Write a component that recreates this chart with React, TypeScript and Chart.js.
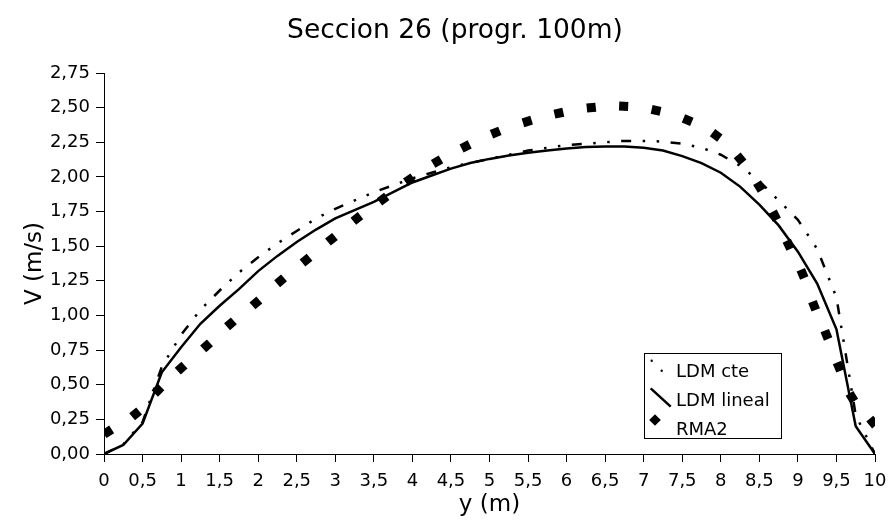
import React, { useEffect, useRef } from "react";
import { Chart, registerables } from "chart.js";

Chart.register(...registerables);

const chartTitle = "Seccion 26 (progr. 100m)";
const xAxisTitle = "y (m)";
const yAxisTitle = "V (m/s)";
const seriesNames = ["LDM cte", "LDM lineal", "RMA2"];

const cteX = [0, 0.25, 0.5, 0.75, 1, 1.25, 1.5, 1.75, 2, 2.25, 2.5, 2.75, 3, 3.25, 3.5, 3.75, 4, 4.25, 4.5, 4.75, 5, 5.25, 5.5, 5.75, 6, 6.25, 6.5, 6.75, 7, 7.25, 7.5, 7.75, 8, 8.25, 8.5, 8.75, 9, 9.25, 9.5, 9.75, 10];
const cteY = [0, 0.07, 0.23, 0.63, 0.86, 1.04, 1.18, 1.31, 1.42, 1.52, 1.61, 1.7, 1.77, 1.83, 1.89, 1.94, 1.99, 2.03, 2.07, 2.1, 2.13, 2.16, 2.19, 2.21, 2.23, 2.24, 2.25, 2.26, 2.26, 2.255, 2.24, 2.21, 2.16, 2.08, 1.97, 1.83, 1.69, 1.48, 1.13, 0.28, 0];

const linX = [0, 0.25, 0.5, 0.75, 1, 1.25, 1.5, 1.75, 2, 2.25, 2.5, 2.75, 3, 3.25, 3.5, 3.75, 4, 4.25, 4.5, 4.75, 5, 5.25, 5.5, 5.75, 6, 6.25, 6.5, 6.75, 7, 7.25, 7.5, 7.75, 8, 8.25, 8.5, 8.75, 9, 9.25, 9.5, 9.75, 10];
const linY = [0, 0.065, 0.22, 0.59, 0.77, 0.94, 1.07, 1.19, 1.32, 1.43, 1.53, 1.62, 1.7, 1.76, 1.82, 1.89, 1.96, 2.01, 2.06, 2.1, 2.13, 2.155, 2.175, 2.19, 2.205, 2.215, 2.22, 2.22, 2.21, 2.19, 2.15, 2.1, 2.03, 1.93, 1.8, 1.65, 1.46, 1.23, 0.9, 0.2, 0];

const rmaX = [0.05, 0.41, 0.7, 1.0, 1.33, 1.64, 1.97, 2.29, 2.62, 2.95, 3.28, 3.62, 3.96, 4.32, 4.69, 5.08, 5.49, 5.9, 6.32, 6.74, 7.16, 7.57, 7.94, 8.25, 8.5, 8.7, 8.88, 9.06, 9.21, 9.37, 9.53, 9.7, 9.97];
const rmaY = [0.16, 0.29, 0.46, 0.62, 0.78, 0.94, 1.09, 1.25, 1.4, 1.55, 1.7, 1.84, 1.98, 2.11, 2.22, 2.32, 2.4, 2.46, 2.5, 2.51, 2.48, 2.41, 2.3, 2.13, 1.93, 1.72, 1.51, 1.3, 1.07, 0.86, 0.63, 0.41, 0.23];

const xTicksMin = 0;
const xTicksMax = 10;
const xStep = 0.5;
const yTicksMin = 0;
const yTicksMax = 2.75;
const yStep = 0.25;

const FONT = "'DejaVu Sans', sans-serif";

function pts(xs: number[], ys: number[]) {
  return xs.map((x, i) => ({ x, y: ys[i] }));
}

const titlePlugin = {
  id: "customTitle",
  afterDraw(chart: any) {
    const ctx = chart.ctx;
    ctx.save();
    ctx.fillStyle = "#000";
    ctx.font = `26.5px ${FONT}`;
    ctx.textAlign = "center";
    ctx.textBaseline = "middle";
    ctx.fillText(chartTitle, 455, 31);
    ctx.restore();
  },
};

const legendPlugin = {
  id: "customLegend",
  afterDraw(chart: any) {
    const ctx = chart.ctx;
    ctx.save();
    const bx = 644.5, by = 353.5, bw = 137, bh = 85;
    ctx.fillStyle = "#fff";
    ctx.fillRect(bx, by, bw, bh);
    ctx.strokeStyle = "#000";
    ctx.lineWidth = 1;
    ctx.strokeRect(bx, by, bw, bh);
    ctx.fillStyle = "#000";
    ctx.beginPath();
    ctx.arc(651.7, 360.7, 1.2, 0, Math.PI * 2);
    ctx.arc(661.7, 370.7, 1.2, 0, Math.PI * 2);
    ctx.fill();
    ctx.beginPath();
    ctx.lineWidth = 2.5;
    ctx.moveTo(650.7, 388.3);
    ctx.lineTo(670.7, 406.7);
    ctx.stroke();
    const cx = 655, cy = 420, r = 5.8;
    ctx.beginPath();
    ctx.moveTo(cx, cy - r);
    ctx.lineTo(cx + r, cy);
    ctx.lineTo(cx, cy + r);
    ctx.lineTo(cx - r, cy);
    ctx.closePath();
    ctx.fill();
    ctx.font = `18px ${FONT}`;
    ctx.textAlign = "left";
    ctx.textBaseline = "alphabetic";
    ctx.fillText(seriesNames[0], 676, 377);
    ctx.fillText(seriesNames[1], 676, 405.5);
    ctx.fillText(seriesNames[2], 676, 434.5);
    ctx.restore();
  },
};

function fmt(v: number, digits: number) {
  return (digits > 0 ? v.toFixed(digits) : String(v)).replace(".", ",");
}

export default function App() {
  const ref = useRef<HTMLCanvasElement | null>(null);

  useEffect(() => {
    if (!ref.current) return;
    const rotation = (ctx: any) => {
      const i = ctx.dataIndex;
      const data = ctx.dataset.data;
      const c = ctx.chart;
      const xs = c.scales.x, ys = c.scales.y;
      if (!xs || !ys || !data || data.length < 2) return 45;
      const a = data[Math.max(0, i - 1)];
      const b = data[Math.min(data.length - 1, i + 1)];
      const dx = xs.getPixelForValue(b.x) - xs.getPixelForValue(a.x);
      const dy = ys.getPixelForValue(b.y) - ys.getPixelForValue(a.y);
      return (Math.atan2(dy, dx) * 180) / Math.PI;
    };
    const chart = new Chart(ref.current, {
      type: "scatter",
      data: {
        datasets: [
          {
            label: seriesNames[0],
            data: pts(cteX, cteY),
            showLine: true,
            borderColor: "#000",
            backgroundColor: "#000",
            borderWidth: 2.5,
            borderDash: [10, 11.5, 2.5, 11.5, 2.5, 11.5],
            pointRadius: 0,
            tension: 0,
          },
          {
            label: seriesNames[1],
            data: pts(linX, linY),
            showLine: true,
            borderColor: "#000",
            backgroundColor: "#000",
            borderWidth: 2.5,
            pointRadius: 0,
            tension: 0,
          },
          {
            label: seriesNames[2],
            data: pts(rmaX, rmaY),
            showLine: false,
            borderColor: "#000",
            backgroundColor: "#000",
            borderWidth: 0,
            pointStyle: "rect",
            pointRadius: 6.4,
            pointRotation: rotation,
          },
        ],
      } as any,
      options: {
        animation: false,
        responsive: true,
        maintainAspectRatio: false,
        layout: { padding: { top: 73, right: 17, left: 0, bottom: 0 } },
        plugins: {
          legend: { display: false },
          tooltip: { enabled: false },
          title: { display: false },
        },
        scales: {
          x: {
            type: "linear",
            min: xTicksMin,
            max: xTicksMax,
            ticks: {
              stepSize: xStep,
              color: "#000",
              font: { family: FONT, size: 18 },
              padding: 9,
              maxRotation: 0,
              autoSkip: false,
              callback: (v: any) => fmt(Number(v), 0),
            },
            grid: { drawOnChartArea: false, drawTicks: true, tickLength: 8, color: "#000" },
            border: { display: true, color: "#000", width: 1 },
            title: {
              display: true,
              text: xAxisTitle,
              color: "#000",
              font: { family: FONT, size: 23, lineHeight: 1.0 },
              padding: { top: 0, bottom: 8.5 },
            },
            afterFit: (s: any) => {
              s.height = 71;
              s.paddingLeft = 0;
              s.paddingRight = 0;
            },
          },
          y: {
            type: "linear",
            min: yTicksMin,
            max: yTicksMax,
            ticks: {
              stepSize: yStep,
              color: "#000",
              font: { family: FONT, size: 18 },
              padding: 6,
              autoSkip: false,
              callback: (v: any) => fmt(Number(v), 2),
            },
            grid: { drawOnChartArea: false, drawTicks: true, tickLength: 8, color: "#000" },
            border: { display: true, color: "#000", width: 1 },
            title: {
              display: true,
              text: yAxisTitle,
              color: "#000",
              font: { family: FONT, size: 23 },
              padding: { top: 21, bottom: 0 },
            },
            afterFit: (s: any) => {
              s.width = 104;
            },
          },
        },
      } as any,
      plugins: [titlePlugin, legendPlugin],
    });
    return () => chart.destroy();
  }, []);

  return (
    <div style={{ position: "fixed", left: 0, top: 0, width: 892, height: 525 }}>
      <canvas ref={ref} />
    </div>
  );
}
